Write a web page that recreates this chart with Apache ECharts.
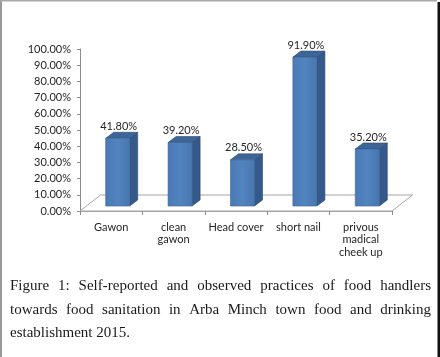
<!DOCTYPE html>
<html>
<head>
<meta charset="utf-8">
<script src="https://cdn.jsdelivr.net/npm/echarts@6/dist/echarts.min.js"></script>
<style>
html, body { margin: 0; padding: 0; background: #fff; }
#container { width: 440px; height: 357px; }
</style>
</head>
<body>
<div id="container"></div>
<script>
var categories = ['Gawon', 'clean\ngawon', 'Head cover', 'short nail', 'privous\nmadical\ncheek up'];
var values = [41.8, 39.2, 28.5, 91.9, 35.2];
var yTicks = [0, 10, 20, 30, 40, 50, 60, 70, 80, 90, 100];
var captionLines = [
    'Figure 1: Self-reported and observed practices of food handlers',
    'towards food sanitation in Arba Minch town food and drinking',
    'establishment 2015.'
];

var dom = document.getElementById('container');
var myChart = echarts.init(dom, null, { renderer: 'canvas' });

// 3d look: bars sit a bit behind the front of the floor
var floorDx = 20.5, floorDy = -16;
var barOx = 6.5, barOy = -5;
var barDx = 8, barDy = -6;

function renderBar(params, api) {
    var idx = api.value(0), v = api.value(1);
    var base = api.coord([idx, 0]);
    var top = api.coord([idx, v]);
    var w = api.size([1, 0])[0] * 0.385;
    var x0 = base[0] - w / 2 + barOx, x1 = x0 + w;
    var yb = base[1] + barOy, yt = top[1] + barOy;
    return {
        type: 'group',
        children: [
            {
                type: 'polygon',
                shape: { points: [[x1, yb], [x1 + barDx, yb + barDy], [x1 + barDx, yt + barDy], [x1, yt]] },
                style: { fill: '#34598a', stroke: '#2c4a73', lineWidth: 0.6 }
            },
            {
                type: 'polygon',
                shape: { points: [[x0, yt], [x0 + barDx, yt + barDy], [x1 + barDx, yt + barDy], [x1, yt]] },
                style: { fill: '#3d6697', stroke: '#2c4a73', lineWidth: 0.6 }
            },
            {
                type: 'rect',
                shape: { x: x0, y: yt, width: w, height: yb - yt },
                style: {
                    fill: new echarts.graphic.LinearGradient(0, 0, 1, 0, [
                        { offset: 0, color: '#4a7ab5' },
                        { offset: 0.5, color: '#5284c0' },
                        { offset: 1, color: '#4876ae' }
                    ]),
                    stroke: '#3a6396', lineWidth: 0.6
                }
            },
            {
                type: 'text',
                style: {
                    text: v.toFixed(2) + '%',
                    x: (x0 + x1 + barDx) / 2 - 3,
                    y: yt - 12,
                    align: 'center',
                    verticalAlign: 'middle',
                    font: '11px Lato',
                    fill: '#262626'
                }
            }
        ]
    };
}

function renderFloor(params, api) {
    var cs = params.coordSys;
    var xl = cs.x, xr = cs.x + cs.width, yf = cs.y + cs.height;
    return {
        type: 'polygon',
        shape: { points: [[xl, yf], [xl + floorDx, yf + floorDy], [xr + floorDx, yf + floorDy], [xr, yf]] },
        style: { fill: '#fff', stroke: '#a6a6a6', lineWidth: 1 },
        z2: 0
    };
}

// justified caption built from words
var measure = document.createElement('canvas').getContext('2d');
var capFont = '15px "Liberation Serif"';
measure.font = capFont;
var capLeft = 10, capRight = 431, capY0 = 286.5, capLead = 23.3;
var graphics = [];
captionLines.forEach(function (line, li) {
    var words = line.split(' ');
    var widths = words.map(function (w) { return measure.measureText(w).width; });
    var total = widths.reduce(function (a, b) { return a + b; }, 0);
    var last = li === captionLines.length - 1;
    var gap = last ? measure.measureText(' ').width : (capRight - capLeft - total) / (words.length - 1);
    var x = capLeft;
    words.forEach(function (w, i) {
        graphics.push({
            type: 'text',
            style: { text: w, x: x, y: capY0 + li * capLead, verticalAlign: 'middle', font: capFont, fill: '#1a1a1a' }
        });
        x += widths[i] + gap;
    });
});
// page frame
graphics.push({ type: 'rect', shape: { x: 0, y: 0, width: 2, height: 357 }, style: { fill: '#9a9a9a' } });
graphics.push({ type: 'rect', shape: { x: 0, y: 0, width: 437, height: 1.5 }, style: { fill: '#a8a8a8' } });
graphics.push({ type: 'rect', shape: { x: 437.5, y: 2, width: 2.5, height: 355 }, style: { fill: '#111' } });

var option = {
    animation: false,
    backgroundColor: '#fff',
    grid: { left: 80, right: 48, top: 49, bottom: 146, containLabel: false },
    xAxis: {
        type: 'category',
        data: categories,
        axisLine: { show: true, lineStyle: { color: '#a6a6a6', width: 1 } },
        axisTick: { show: true, length: 4, lineStyle: { color: '#8c8c8c' } },
        axisLabel: { interval: 0, margin: 10, fontSize: 11, fontFamily: 'Lato', color: '#262626', lineHeight: 12.5 },
        z: 3
    },
    yAxis: {
        type: 'value',
        min: 0,
        max: 100,
        interval: 10,
        axisLine: { show: true, lineStyle: { color: '#8c8c8c' } },
        axisTick: { show: true, length: 3, lineStyle: { color: '#8c8c8c' } },
        splitLine: { show: false },
        axisLabel: {
            margin: 9,
            fontSize: 11,
            fontFamily: 'Lato',
            color: '#262626',
            formatter: function (v) { return v.toFixed(2) + '%'; }
        }
    },
    series: [
        { type: 'custom', renderItem: renderFloor, data: [[0]], z: 1, silent: true },
        {
            type: 'custom',
            renderItem: renderBar,
            encode: { x: 0, y: 1 },
            data: values.map(function (v, i) { return [i, v]; }),
            z: 2
        }
    ],
    graphic: graphics
};

myChart.setOption(option);
</script>
</body>
</html>
